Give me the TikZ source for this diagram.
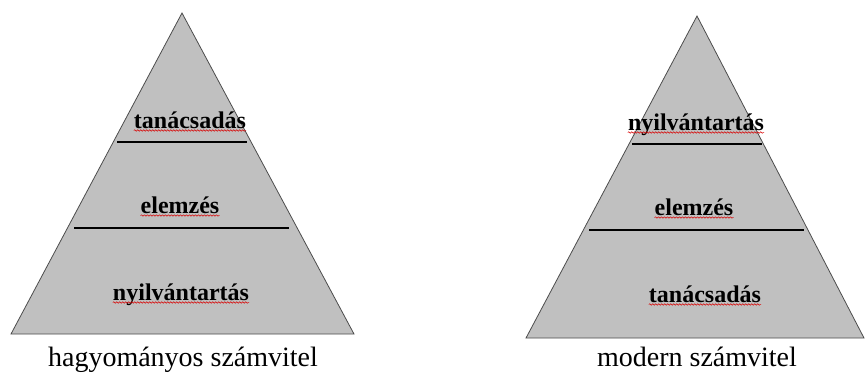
\documentclass[tikz,border=0pt]{standalone}
\usepackage{fontspec}
\setmainfont{Liberation Serif}
\usetikzlibrary{
  decorations.pathmorphing
}
\definecolor{pyrgray}{RGB}{192,192,192}

\begin{document}
\begin{tikzpicture}[
  x=1pt, y=-1pt,
  pyramid/.style={
     fill=pyrgray,
     draw=black!70,
     line width=.8pt
  },
  divider/.style={draw=black, line width=1.1pt},
  layer/.style={
     font=\fontsize{24}{24}\bfseries\selectfont,
     inner sep=0pt,
     anchor=base
  },
  squiggle/.style={
     draw=red!85!black,
     line width=.5pt,
     decorate,
     decoration={snake, amplitude=.7pt, segment length=3pt}
  },
  caption/.style={font=\fontsize{28}{28}\selectfont, inner sep=0pt, anchor=base}
]
   \useasboundingbox (0,0) rectangle (865,376);

   % left pyramid: hagyomanyos
   \coordinate (Ltop) at (182,13);
   \coordinate (Lleft) at (11,334);
   \coordinate (Lright) at (354,334);
   \draw[pyramid] (Ltop) -- (Lright) -- (Lleft) -- cycle;
   \draw[divider] (117,142) -- (247,142);
   \draw[divider] (74,228) -- (289,228);

   \node[layer] (Ltan) at (190,128) {tanácsadás};
   \node[layer] (Lelem) at (180,213) {elemzés};
   \node[layer] (Lnyil) at (181,300) {nyilvántartás};
   \node[caption] (Lcap) at (183,366) {hagyományos számvitel};

   % right pyramid: modern
   \coordinate (Rtop) at (697,16);
   \coordinate (Rleft) at (526,338);
   \coordinate (Rright) at (864,338);
   \draw[pyramid] (Rtop) -- (Rright) -- (Rleft) -- cycle;
   \draw[divider] (632,144) -- (762,144);
   \draw[divider] (589,230) -- (804,230);

   \node[layer] (Rnyil) at (696,130) {nyilvántartás};
   \node[layer] (Relem) at (694,215) {elemzés};
   \node[layer] (Rtan) at (705,302) {tanácsadás};
   \node[caption] (Rcap) at (697,366) {modern számvitel};

   % the spell checker underlines
   \foreach \lbl in {Ltan,Lelem,Lnyil,Rnyil,Relem,Rtan}
     \draw[squiggle] ([yshift=-2.5pt]\lbl.base west) -- ([yshift=-2.5pt]\lbl.base east);
\end{tikzpicture}
\end{document}
